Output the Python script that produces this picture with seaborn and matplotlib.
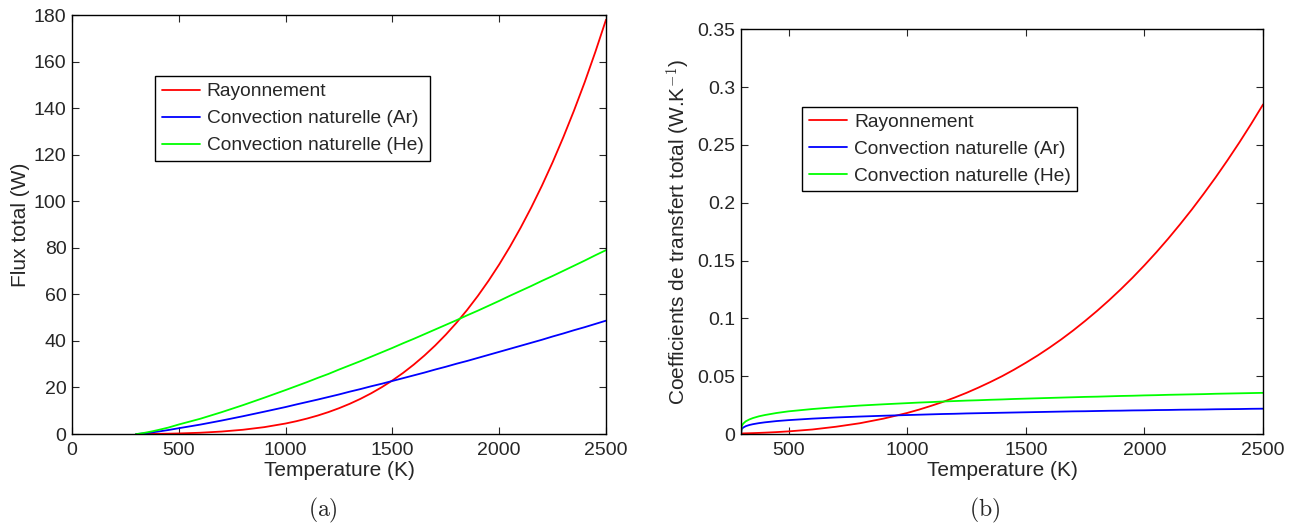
import pandas as pd
import matplotlib
matplotlib.use("Agg")
import matplotlib.pyplot as plt
import seaborn as sns

# Temperature grid (K), finer near the start where convection rises fast
temperature = [300, 302, 305, 310, 320, 335, 350, 375, 400, 450, 500,
               600, 700, 800, 900, 1000, 1050, 1100, 1150, 1200, 1250, 1300, 1350, 1400, 1450, 1500,
               1550, 1600, 1650, 1700, 1750, 1800, 1850, 1900, 1950, 2000,
               2050, 2100, 2150, 2200, 2250, 2300, 2350, 2400, 2450, 2500]

# (a) total flux (W)
flux_rad = [0.0, 0.0, 0.002, 0.005, 0.011, 0.021, 0.032, 0.053, 0.08, 0.15, 0.25,
            0.55, 1.06, 1.83, 2.95, 4.52, 5.50, 6.64, 7.93, 9.41, 11.09, 12.98, 15.10, 17.47, 20.11, 23.03,
            26.26, 29.83, 33.74, 38.02, 42.70, 47.8, 53.34, 59.35, 65.85, 72.87,
            80.44, 88.59, 97.33, 106.7, 116.75, 127.5, 138.94, 151.1, 164.15, 178.0]
flux_ar = [0.0, 0.008, 0.024, 0.057, 0.137, 0.275, 0.43, 0.71, 1.02, 1.7, 2.5,
           4.04, 5.78, 7.64, 9.6, 11.6, 12.7, 13.75, 14.8, 15.9, 17.0, 18.2, 19.3, 20.5, 21.6, 22.8,
           24.0, 25.2, 26.4, 27.7, 28.9, 30.2, 31.4, 32.7, 34.0, 35.3,
           36.6, 37.9, 39.2, 40.5, 41.9, 43.2, 44.6, 45.9, 47.3, 48.7]
flux_he = [0.0, 0.012, 0.04, 0.09, 0.22, 0.45, 0.7, 1.16, 1.66, 2.75, 4.1,
           6.55, 9.38, 12.4, 15.6, 18.9, 20.6, 22.3, 24.1, 25.8, 27.7, 29.5, 31.3, 33.2, 35.1, 37.0,
           39.0, 40.9, 42.9, 44.9, 46.9, 48.9, 51.0, 53.0, 55.1, 57.2,
           59.4, 61.5, 63.6, 65.8, 67.9, 70.1, 72.3, 74.5, 76.8, 79.0]

# (b) total transfer coefficient (W/K)
coef_rad = [0.0005, 0.0005, 0.0005, 0.00054, 0.0006, 0.00069, 0.00078, 0.00096, 0.00117, 0.00166, 0.00228,
            0.0039, 0.0063, 0.0093, 0.0133, 0.0182, 0.0211, 0.0243, 0.0277, 0.0315, 0.0356, 0.0401, 0.0449, 0.05, 0.0556, 0.0616,
            0.0679, 0.0747, 0.0819, 0.0896, 0.0978, 0.1064, 0.1155, 0.1251, 0.1352, 0.1459,
            0.1571, 0.1689, 0.1813, 0.1942, 0.2078, 0.2219, 0.2367, 0.2521, 0.2682, 0.285]
coef_ar = [0.0, 0.0038, 0.0048, 0.0057, 0.0068, 0.0078, 0.0085, 0.0094, 0.0101, 0.0112, 0.012,
           0.0133, 0.0143, 0.0151, 0.0158, 0.0164, 0.0167, 0.017, 0.0173, 0.0175, 0.0178, 0.018, 0.0182, 0.0184, 0.0186, 0.0188,
           0.019, 0.0192, 0.0194, 0.0196, 0.0197, 0.0199, 0.0201, 0.0202, 0.0204, 0.0205,
           0.0207, 0.0208, 0.021, 0.0211, 0.0212, 0.0214, 0.0215, 0.0216, 0.0218, 0.0219]
coef_he = [0.0, 0.0062, 0.0078, 0.0092, 0.011, 0.0126, 0.0138, 0.0153, 0.0164, 0.0182, 0.0196,
           0.0216, 0.0232, 0.0246, 0.0257, 0.0267, 0.0272, 0.0276, 0.0281, 0.0285, 0.0289, 0.0292, 0.0296, 0.0299, 0.0303, 0.0306,
           0.0309, 0.0312, 0.0315, 0.0318, 0.0321, 0.0323, 0.0326, 0.0329, 0.0331, 0.0334,
           0.0336, 0.0339, 0.0341, 0.0343, 0.0345, 0.0348, 0.035, 0.0352, 0.0354, 0.0356]

series_names = ["Rayonnement", "Convection naturelle (Ar)", "Convection naturelle (He)"]
series_colors = ["#ff0000", "#0000ff", "#00ff00"]

sns.set_style("ticks")
plt.rcParams["font.family"] = ["Liberation Sans", "DejaVu Sans"]
plt.rcParams["mathtext.fontset"] = "cm"
plt.rcParams["xtick.direction"] = "in"
plt.rcParams["ytick.direction"] = "in"


def long_table(values):
    rows = []
    for name, ys in zip(series_names, values):
        for t, y in zip(temperature, ys):
            rows.append({"T": t, "val": y, "serie": name})
    return pd.DataFrame(rows)


df_a = long_table([flux_rad, flux_ar, flux_he])
df_b = long_table([coef_rad, coef_ar, coef_he])
palette = dict(zip(series_names, series_colors))

fig = plt.figure(figsize=(12.96, 5.25), dpi=100)
ax1 = fig.add_axes([0.0556, 0.1733, 0.412, 0.798])
ax2 = fig.add_axes([0.5718, 0.1733, 0.4028, 0.771])

sns.lineplot(data=df_a, x="T", y="val", hue="serie", palette=palette,
             linewidth=1.3, ax=ax1, sort=False)
sns.lineplot(data=df_b, x="T", y="val", hue="serie", palette=palette,
             linewidth=1.3, ax=ax2, sort=False)

ax1.set_xlim(0, 2500)
ax1.set_ylim(0, 180)
ax1.set_xticks([0, 500, 1000, 1500, 2000, 2500])
ax1.set_yticks(range(0, 181, 20))
ax1.set_ylabel("Flux total (W)", fontsize=15, labelpad=3)

ax2.set_xlim(300, 2500)
ax2.set_ylim(0, 0.35)
ax2.set_xticks([500, 1000, 1500, 2000, 2500])
yt = [0, 0.05, 0.1, 0.15, 0.2, 0.25, 0.3, 0.35]
ax2.set_yticks(yt)
ax2.set_yticklabels(["0", "0.05", "0.1", "0.15", "0.2", "0.25", "0.3", "0.35"])
ax2.set_ylabel(r"Coefficients de transfert total (W.K$^{\mathsf{-1}}$)", fontsize=15, labelpad=3)

for ax in (ax1, ax2):
    ax.set_xlabel("Temperature (K)", fontsize=15, labelpad=1)
    ax.tick_params(labelsize=14, top=True, right=True, length=5, width=0.8)
    ax.tick_params(axis="x", pad=6)
    ax.tick_params(axis="y", pad=4)
    for s in ax.spines.values():
        s.set_visible(True)
        s.set_linewidth(1.0)
        s.set_color("black")

legend_kw = dict(loc="upper left", fontsize=13.8, handlelength=2.0, fancybox=False,
                 edgecolor="black", framealpha=1, borderaxespad=0,
                 labelspacing=0.5, borderpad=0.35, handletextpad=0.35)
ax1.legend(bbox_to_anchor=(0.155, 0.854), **legend_kw)
ax2.legend(bbox_to_anchor=(0.117, 0.809), **legend_kw)
for lg in (ax1.get_legend(), ax2.get_legend()):
    lg.get_frame().set_linewidth(1.0)

fig.text(323 / 1296, 1 - 510 / 525, r"$\mathrm{(a)}$", ha="center", va="center", fontsize=17)
fig.text(985 / 1296, 1 - 510 / 525, r"$\mathrm{(b)}$", ha="center", va="center", fontsize=17)

fig.savefig("out.png", dpi=100)
